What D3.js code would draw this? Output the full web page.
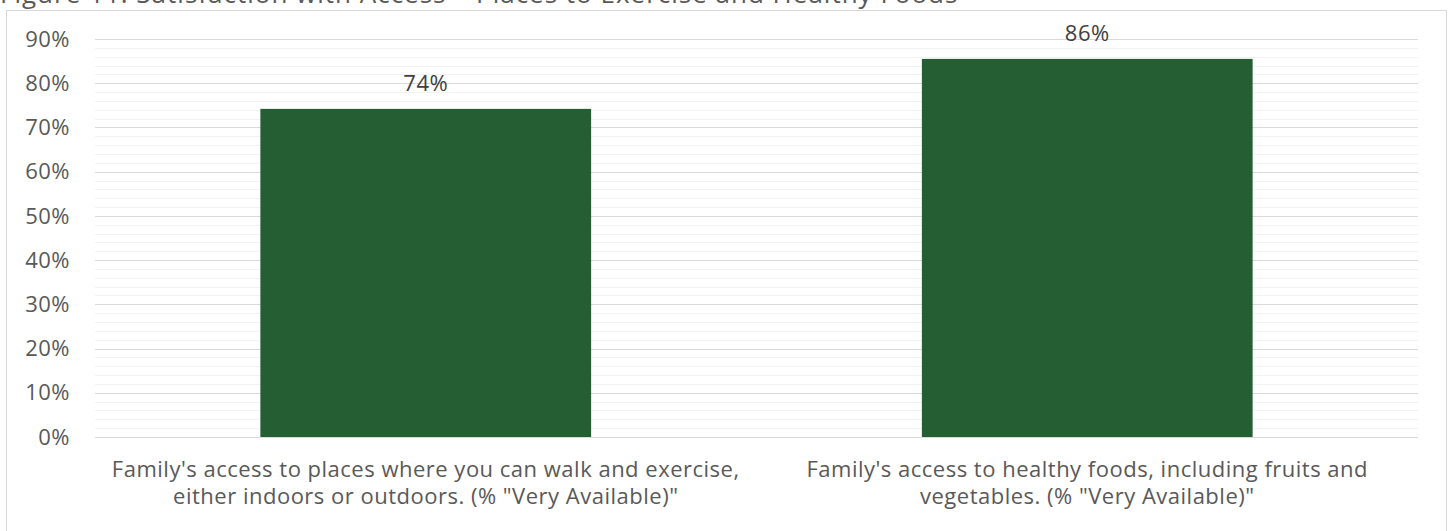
<!DOCTYPE html>
<html>
<head>
<meta charset="utf-8">
<script src="https://cdn.jsdelivr.net/npm/d3@7"></script>
<style>
  body { margin: 0; background: #fff; }
  svg { display: block; font-family: "Open Sans", "Noto Sans", sans-serif; }
</style>
</head>
<body>
<svg width="1450" height="531"></svg>
<script>
var title = 'Figure 11: Satisfaction with Access \u2013 Places to Exercise and Healthy Foods';
var categories = [
  ['Family\'s access to places where you can walk and exercise,', 'either indoors or outdoors. (% "Very Available)"'],
  ['Family\'s access to healthy foods, including fruits and', 'vegetables. (% "Very Available)"']
];
var values = [0.742, 0.855];
var labels = ['74%', '86%'];
var majorTicks = [0, 0.1, 0.2, 0.3, 0.4, 0.5, 0.6, 0.7, 0.8, 0.9];
var minorStep = 0.02;

var svg = d3.select('svg');
var margin = {left: 95, right: 32, top: 39, bottom: 94};
var W = 1450, H = 531;

// title sits mostly above the visible area, as in the source crop
svg.append('text')
  .attr('x', 0)
  .attr('y', 3)
  .attr('fill', '#595959')
  .style('font-size', '26px')
  .style('letter-spacing', '1px')
  .text(title);

svg.append('rect')
  .attr('x', 6.5)
  .attr('y', 10.5)
  .attr('width', 1440)
  .attr('height', 530)
  .attr('fill', 'none')
  .attr('stroke', '#d9d9d9');

var x = d3.scaleBand()
  .domain(d3.range(categories.length))
  .range([margin.left, W - margin.right])
  .paddingInner(0.5)
  .paddingOuter(0.25);

var y = d3.scaleLinear()
  .domain([0, 0.9])
  .range([H - margin.bottom, margin.top]);

var minor = d3.range(0, 0.9 + 1e-9, minorStep).filter(function(d) {
  return Math.abs(d * 10 - Math.round(d * 10)) > 1e-6;
});

svg.append('g').selectAll('line')
  .data(minor)
  .enter()
  .append('line')
  .attr('x1', margin.left)
  .attr('x2', W - margin.right)
  .attr('y1', function(d) { return Math.round(y(d)) + 0.5; })
  .attr('y2', function(d) { return Math.round(y(d)) + 0.5; })
  .attr('stroke', '#f2f2f2');

svg.append('g').selectAll('line')
  .data(majorTicks)
  .enter()
  .append('line')
  .attr('x1', margin.left)
  .attr('x2', W - margin.right)
  .attr('y1', function(d) { return Math.round(y(d)) + 0.5; })
  .attr('y2', function(d) { return Math.round(y(d)) + 0.5; })
  .attr('stroke', '#d9d9d9');

svg.append('g').selectAll('text')
  .data(majorTicks)
  .enter()
  .append('text')
  .attr('x', 70)
  .attr('y', function(d) { return y(d); })
  .attr('dy', '0.35em')
  .attr('text-anchor', 'end')
  .attr('fill', '#595959')
  .style('font-size', '22px')
  .style('letter-spacing', '0.5px')
  .text(d3.format('.0%'));

svg.append('g').selectAll('rect')
  .data(values)
  .enter()
  .append('rect')
  .attr('x', function(d, i) { return x(i); })
  .attr('y', function(d) { return y(d); })
  .attr('width', x.bandwidth())
  .attr('height', function(d) { return y(0) - y(d); })
  .attr('fill', '#265e34');

svg.append('g').selectAll('text')
  .data(values)
  .enter()
  .append('text')
  .attr('x', function(d, i) { return x(i) + x.bandwidth() / 2; })
  .attr('y', function(d) { return y(d) - 26; })
  .attr('dy', '0.35em')
  .attr('text-anchor', 'middle')
  .attr('fill', '#404040')
  .style('font-size', '22px')
  .style('letter-spacing', '0.5px')
  .text(function(d, i) { return labels[i]; });

var cat = svg.append('g').selectAll('text')
  .data(categories)
  .enter()
  .append('text')
  .attr('x', function(d, i) { return x(i) + x.bandwidth() / 2; })
  .attr('y', 469)
  .attr('text-anchor', 'middle')
  .attr('fill', '#595959')
  .style('font-size', '22px')
  .style('letter-spacing', '0.5px');

cat.selectAll('tspan')
  .data(function(d) { return d; })
  .enter()
  .append('tspan')
  .attr('x', function() { return d3.select(this.parentNode).attr('x'); })
  .attr('dy', function(d, i) { return i === 0 ? '0.35em' : '27px'; })
  .text(function(d) { return d; });
</script>
</body>
</html>
